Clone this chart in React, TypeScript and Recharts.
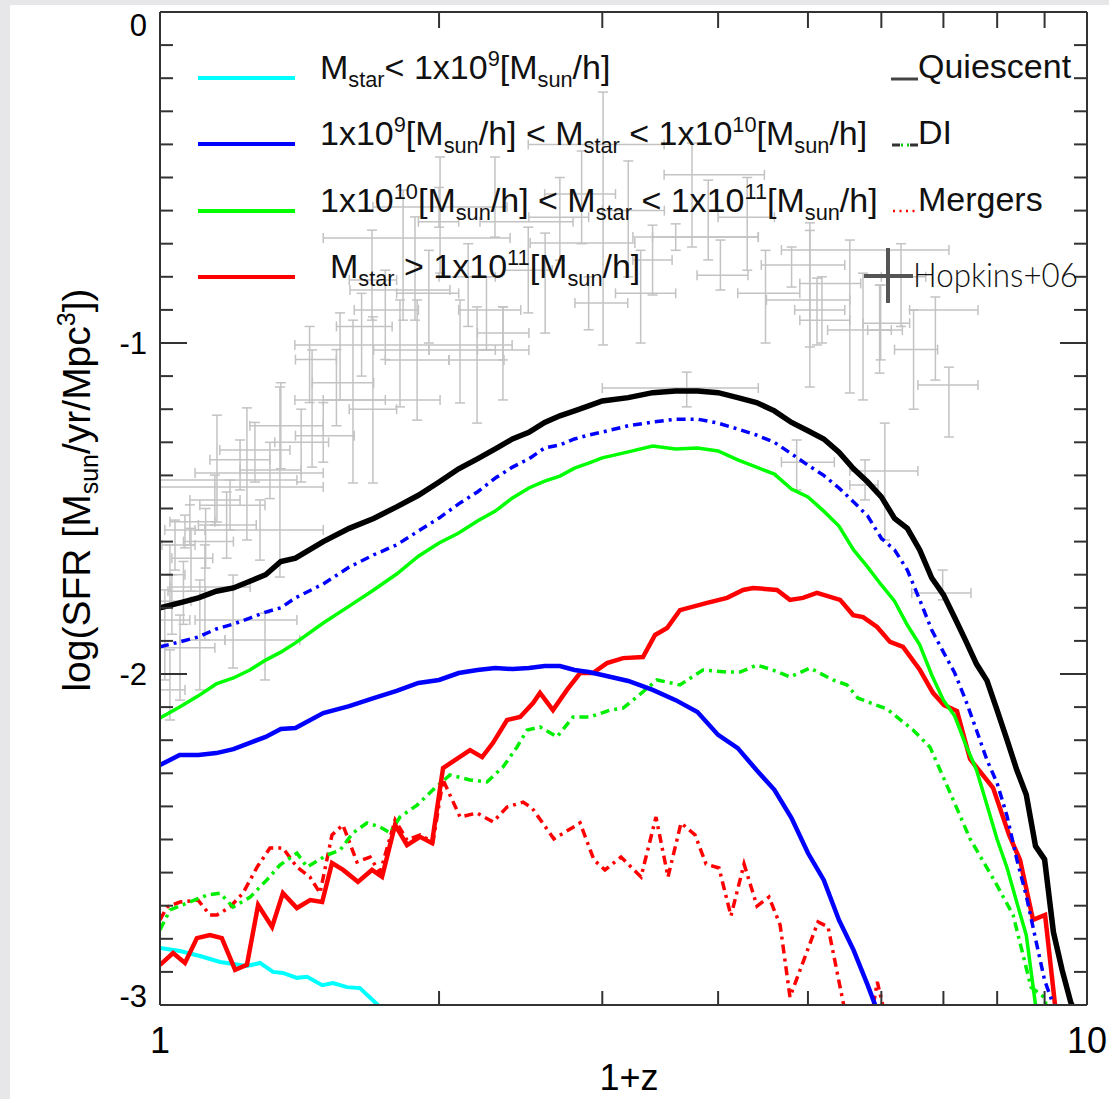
import { ComposedChart, Line, Scatter, ErrorBar, XAxis, YAxis, Legend } from "recharts";

// ---- data (x = 1+z, y = log SFR density) ----

const xGrid = [
  1.0, 1.05, 1.1, 1.15, 1.2, 1.25, 1.3, 1.35, 1.4, 1.5, 1.6, 1.7, 1.8, 1.9, 2.0, 2.1, 2.2, 2.3, 2.4, 2.5,
  2.6, 2.7, 2.8, 2.9, 3.0, 3.2, 3.4, 3.6, 3.8, 4.0, 4.2, 4.4, 4.6, 4.8, 5.0, 5.2, 5.4, 5.6, 5.8, 6.0,
  6.2, 6.4, 6.6, 6.8, 7.0, 7.2, 7.4, 7.6, 7.8, 8.0, 8.2, 8.4, 8.6, 8.8, 9.0, 9.2, 9.4, 9.6, 9.8,
];

// black solid
const totalSfr = [
  -1.8, -1.785, -1.77, -1.75, -1.74, -1.72, -1.7, -1.66, -1.65, -1.6, -1.56, -1.53, -1.495, -1.46, -1.42,
  -1.38, -1.35, -1.32, -1.29, -1.27, -1.24, -1.22, -1.205, -1.19, -1.175, -1.165, -1.15, -1.145, -1.145,
  -1.15, -1.165, -1.18, -1.205, -1.24, -1.265, -1.29, -1.33, -1.38, -1.42, -1.465, -1.53, -1.56, -1.625,
  -1.71, -1.76, -1.83, -1.9, -1.97, -2.02, -2.11, -2.2, -2.29, -2.365, -2.52, -2.56, -2.78, -2.894, -2.99,
  -3.05,
];

// blue dash-dot
const diTotal = [
  -1.918, -1.903, -1.888, -1.864, -1.849, -1.831, -1.813, -1.8, -1.77, -1.728, -1.677, -1.64, -1.61,
  -1.568, -1.529, -1.486, -1.45, -1.408, -1.375, -1.35, -1.317, -1.308, -1.29, -1.278, -1.269, -1.25,
  -1.239, -1.23, -1.23, -1.242, -1.26, -1.278, -1.3, -1.335, -1.369, -1.4, -1.438, -1.48, -1.523, -1.59,
  -1.625, -1.686, -1.776, -1.867, -1.934, -1.997, -2.08, -2.17, -2.26, -2.33, -2.43, -2.56, -2.67, -2.8,
  -2.925, -3.0, -3.1, -3.2, -3.3,
];

// green solid
const mass10to11 = [
  -2.133, -2.1, -2.066, -2.03, -2.012, -1.988, -1.958, -1.934, -1.906, -1.846, -1.795, -1.746, -1.698,
  -1.644, -1.604, -1.574, -1.538, -1.508, -1.468, -1.438, -1.417, -1.402, -1.378, -1.363, -1.347, -1.329,
  -1.311, -1.32, -1.317, -1.326, -1.353, -1.375, -1.396, -1.441, -1.465, -1.508, -1.553, -1.625, -1.677,
  -1.731, -1.78, -1.852, -1.912, -2.003, -2.079, -2.127, -2.214, -2.29, -2.396, -2.5, -2.586, -2.69,
  -2.789, -3.0, -3.1, -3.2, -3.3, -3.4, -3.5,
];

// blue solid
const mass9to10 = [
  -2.275, -2.245, -2.245, -2.239, -2.227, -2.208, -2.19, -2.166, -2.163, -2.118, -2.097, -2.073, -2.051,
  -2.027, -2.018, -1.997, -1.988, -1.982, -1.985, -1.982, -1.976, -1.976, -1.988, -1.994, -2.003, -2.021,
  -2.048, -2.079, -2.115, -2.184, -2.224, -2.29, -2.35, -2.435, -2.541, -2.622, -2.743, -2.834, -2.94,
  -3.05, -3.15, -3.25, -3.35, -3.45, -3.55, -3.6, -3.7, -3.8, -3.9, -4, -4, -4, -4, -4, -4, -4, -4, -4, -4,
];

// cyan solid
const lowMassX = [1.0, 1.051, 1.104, 1.161, 1.241, 1.282, 1.324, 1.357, 1.405, 1.441, 1.496, 1.537, 1.591, 1.643, 1.718, 1.8];
const lowMassY = [-2.828, -2.837, -2.852, -2.87, -2.882, -2.873, -2.9, -2.903, -2.918, -2.915, -2.94, -2.934, -2.946, -2.949, -3.0, -3.1];

// red solid
const massiveX = [
  1.0, 1.033, 1.064, 1.096, 1.132, 1.166, 1.205, 1.241, 1.276, 1.321, 1.357, 1.405, 1.452, 1.496, 1.533,
  1.576, 1.635, 1.693, 1.736, 1.793, 1.847, 1.908, 1.965, 2.02, 2.16, 2.226, 2.287, 2.368, 2.446, 2.526,
  2.57, 2.654, 2.748, 2.839, 2.931, 3.035, 3.159, 3.319, 3.42, 3.524, 3.638, 3.892, 4.09, 4.256, 4.363,
  4.63, 4.781, 4.938, 5.113, 5.416, 5.594, 5.734, 5.937, 6.131, 6.332, 6.604, 6.821, 7.01, 7.241, 7.479,
  7.919, 8.24, 8.468, 8.746, 9.011, 9.237, 9.5,
];
const massiveY = [
  -2.879, -2.843, -2.873, -2.798, -2.789, -2.798, -2.894, -2.879, -2.698, -2.764, -2.662, -2.707, -2.683,
  -2.689, -2.571, -2.592, -2.628, -2.592, -2.613, -2.456, -2.517, -2.492, -2.511, -2.284, -2.23, -2.251,
  -2.208, -2.139, -2.13, -2.088, -2.057, -2.109, -2.048, -1.997, -1.997, -1.967, -1.952, -1.949, -1.882,
  -1.861, -1.807, -1.785, -1.77, -1.746, -1.74, -1.746, -1.776, -1.77, -1.755, -1.776, -1.822, -1.828,
  -1.858, -1.903, -1.918, -1.988, -2.057, -2.094, -2.112, -2.257, -2.344, -2.486, -2.562, -2.743, -2.728,
  -3.0, -3.3,
];

// red dash-dot
const massiveMergX = [
  1.0, 1.0175, 1.051, 1.099, 1.132, 1.152, 1.19, 1.229, 1.273, 1.314, 1.357, 1.405, 1.451, 1.488, 1.533,
  1.575, 1.631, 1.685, 1.727, 1.793, 1.847, 1.908, 1.97, 2.02, 2.107, 2.198, 2.287, 2.368, 2.464, 2.52,
  2.66, 2.839, 2.939, 3.02, 3.143, 3.303, 3.428, 3.532, 3.648, 3.777, 3.882, 4.009, 4.13, 4.266, 4.406,
  4.539, 4.666, 4.782, 5.127, 5.256, 5.537, 5.76, 5.94, 6.08,
];
const massiveMergY = [
  -2.743, -2.704, -2.689, -2.683, -2.728, -2.728, -2.704, -2.662, -2.583, -2.526, -2.526, -2.583, -2.613,
  -2.662, -2.486, -2.456, -2.568, -2.553, -2.601, -2.441, -2.502, -2.486, -2.508, -2.32, -2.432, -2.42,
  -2.447, -2.402, -2.387, -2.405, -2.498, -2.45, -2.562, -2.592, -2.553, -2.613, -2.432, -2.613, -2.45,
  -2.486, -2.574, -2.586, -2.731, -2.574, -2.701, -2.674, -2.758, -2.976, -2.749, -2.764, -3.08, -3.15,
  -2.93, -3.05,
];

// green dash-dot
const highDiX = [
  1.0, 1.025, 1.069, 1.124, 1.161, 1.199, 1.251, 1.304, 1.347, 1.405, 1.441, 1.514, 1.564, 1.615, 1.672,
  1.727, 1.771, 1.815, 1.894, 1.97, 2.055, 2.16, 2.253, 2.344, 2.427, 2.489, 2.57, 2.681, 2.79, 2.91,
  3.058, 3.159, 3.27, 3.437, 3.638, 3.852, 4.09, 4.224, 4.406, 4.584, 4.782, 5.026, 5.321, 5.509, 5.662,
  6.085, 6.491, 6.771, 7.08, 7.479, 7.959, 8.323, 8.702, 9.011, 9.1,
];
const highDiY = [
  -2.773, -2.713, -2.692, -2.668, -2.662, -2.704, -2.674, -2.622, -2.577, -2.541, -2.583, -2.547, -2.532,
  -2.48, -2.45, -2.462, -2.48, -2.432, -2.396, -2.35, -2.305, -2.32, -2.326, -2.281, -2.221, -2.169, -2.16,
  -2.19, -2.13, -2.13, -2.109, -2.103, -2.069, -2.018, -2.033, -1.988, -1.994, -1.994, -1.973, -1.988,
  -2.009, -1.982, -2.018, -2.033, -2.073, -2.106, -2.169, -2.221, -2.344, -2.498, -2.628, -2.728, -2.946,
  -2.979, -3.08,
];

// Hopkins+06 compilation: [x, y, xLow, xHigh, yLow, yHigh]
const hopkins06 = [
  [1.025, -1.7, 1.0, 1.064, -1.79, -1.61],
  [1.038, -1.61, 1.005, 1.091, -1.686, -1.535],
  [1.064, -1.565, 1.012, 1.118, -1.619, -1.52],
  [1.077, -1.54, 1.025, 1.146, -1.61, -1.489],
  [1.012, -1.837, 1.0, 1.077, -2.018, -1.746],
  [1.051, -1.921, 1.0, 1.146, -2.079, -1.822],
  [1.025, -2.048, 1.0, 1.064, -2.139, -1.927],
  [1.104, -1.897, 1.051, 1.175, -2.048, -1.716],
  [1.199, -1.837, 1.091, 1.405, -1.982, -1.701],
  [1.298, -1.897, 1.175, 1.415, -2.018, -1.816],
  [1.118, -1.737, 1.025, 1.251, -1.897, -1.61],
  [1.152, -1.414, 1.0, 1.405, -1.541, -1.218],
  [1.241, -1.435, 1.0, 1.5, -1.595, -1.196],
  [1.347, -1.393, 1.091, 1.5, -1.707, -1.133],
  [1.282, -1.565, 1.091, 1.5, -1.656, -1.474],
  [1.19, -1.49, 1.104, 1.298, -1.565, -1.414],
  [1.22, -1.353, 1.132, 1.314, -1.444, -1.293],
  [1.146, -1.474, 1.077, 1.22, -1.55, -1.399],
  [1.266, -1.323, 1.16, 1.381, -1.42, -1.24],
  [1.314, -1.384, 1.22, 1.42, -1.47, -1.3],
  [1.459, -1.172, 1.398, 2.005, -1.375, -1.021],
  [1.564, -1.006, 1.398, 2.398, -1.172, -0.909],
  [1.615, -1.172, 1.5, 1.75, -1.423, -0.931],
  [1.697, -1.2, 1.6, 1.8, -1.423, -0.921],
  [1.815, -1.021, 1.7, 1.95, -1.193, -0.87],
  [1.894, -1.051, 1.75, 2.05, -1.233, -0.87],
  [2.107, -1.021, 1.95, 2.3, -1.181, -0.87],
  [2.198, -1.051, 2.05, 2.35, -1.242, -0.891],
  [2.344, -1.021, 2.2, 2.5, -1.172, -0.891],
  [1.884, -0.683, 1.5, 2.386, -0.931, -0.619],
  [2.005, -0.634, 1.9, 2.1, -0.789, -0.438],
  [2.298, -0.634, 2.214, 2.79, -0.68, -0.438],
  [2.0, -0.589, 1.697, 2.368, -0.65, -0.53],
  [1.829, -0.84, 1.603, 2.055, -0.931, -0.538],
  [1.693, -0.81, 1.6, 1.8, -0.931, -0.659],
  [2.496, -0.78, 2.35, 2.65, -0.909, -0.65],
  [2.603, -0.698, 2.508, 3.253, -0.97, -0.668],
  [2.9, -0.879, 2.803, 3.196, -0.96, -0.8],
  [2.344, -0.97, 2.2, 2.5, -1.051, -0.891],
  [3.006, -0.4, 2.496, 3.498, -1.006, -0.242],
  [3.749, -0.492, 3.498, 4.487, -0.71, -0.396],
  [3.903, -0.68, 3.399, 4.42, -0.749, -0.508],
  [4.023, -0.795, 3.796, 4.308, -0.84, -0.689],
  [4.801, -0.764, 4.453, 5.479, -0.831, -0.71],
  [5.024, -0.87, 4.51, 5.548, -1.012, -0.637],
  [5.177, -0.931, 4.9, 5.548, -1.0, -0.8],
  [5.99, -0.94, 5.733, 6.437, -1.051, -0.825],
  [3.399, -0.749, 3.237, 3.568, -0.855, -0.644],
  [3.6, -0.68, 3.237, 4.42, -0.72, -0.64],
  [5.114, -0.9, 4.838, 5.479, -1.006, -0.804],
  [5.733, -0.961, 5.25, 6.321, -1.172, -0.789],
  [5.974, -0.961, 5.8, 6.15, -1.091, -0.825],
  [6.862, -0.9, 6.437, 7.628, -1.112, -0.861],
  [7.097, -1.127, 6.57, 7.628, -1.284, -1.073],
  [6.052, -1.387, 5.548, 6.57, -1.595, -1.242],
  [5.762, -1.429, 5.548, 5.95, -1.474, -1.353],
  [4.862, -1.36, 4.681, 5.339, -1.444, -1.293],
  [6.987, -1.755, 6.47, 7.497, -1.776, -1.686],
  [5.548, -0.82, 4.9, 5.7, -1.151, -0.689],
  [5.024, -0.719, 4.681, 7.097, -1.133, -0.66],
  [3.7, -1.136, 3.0, 4.42, -1.193, -1.088],
  [1.35, -1.25, 1.25, 1.5, -1.38, -1.12],
  [1.42, -1.3, 1.33, 1.52, -1.42, -1.2],
  [1.5, -1.28, 1.4, 1.62, -1.36, -1.18],
  [1.55, -1.12, 1.46, 1.7, -1.25, -1.02],
  [1.45, -1.05, 1.4, 1.55, -1.18, -0.95],
  [1.65, -0.95, 1.55, 1.78, -1.1, -0.85],
  [1.75, -0.9, 1.62, 1.9, -1.05, -0.78],
  [1.95, -0.85, 1.8, 2.1, -1.0, -0.72],
  [2.15, -0.8, 2.0, 2.3, -0.95, -0.7],
  [2.25, -0.9, 2.1, 2.45, -1.02, -0.8],
  [2.7, -0.62, 2.5, 2.9, -0.75, -0.5],
  [2.85, -0.55, 2.6, 3.1, -0.7, -0.42],
  [3.2, -0.6, 3.0, 3.5, -0.8, -0.45],
  [3.3, -0.85, 3.1, 3.6, -1.0, -0.72],
  [4.3, -0.62, 4.0, 4.6, -0.78, -0.5],
  [4.5, -0.85, 4.2, 4.9, -1.0, -0.72],
  [6.3, -0.8, 6.0, 6.7, -0.95, -0.7],
  [6.5, -1.02, 6.2, 6.9, -1.2, -0.9],
  [1.08, -1.65, 1.03, 1.14, -1.75, -1.56],
  [1.12, -1.6, 1.06, 1.2, -1.68, -1.5],
  [1.18, -1.55, 1.1, 1.27, -1.65, -1.45],
  [1.03, -1.78, 1.0, 1.08, -1.88, -1.7],
  [1.06, -1.75, 1.02, 1.12, -1.85, -1.66],
];

const yTicks = [
  0, -0.1, -0.2, -0.3, -0.4, -0.5, -0.6, -0.7, -0.8, -0.9, -1, -1.1, -1.2, -1.3, -1.4, -1.5, -1.6, -1.7,
  -1.8, -1.9, -2, -2.1, -2.2, -2.3, -2.4, -2.5, -2.6, -2.7, -2.8, -2.9, -3,
];
const xTicks = [1, 2, 3, 4, 5, 6, 7, 8, 9, 10];
const xLabelled = [1, 10];

type Part = [string, ("sub" | "sup")?];
const massLegend: { color: string; x: number; y: number; parts: Part[] }[] = [
  { color: "#00ffff", x: 320, y: 78, parts: [["M"], ["star", "sub"], ["< 1x10"], ["9", "sup"], ["[M"], ["sun", "sub"], ["/h]"]] },
  {
    color: "#0000ff", x: 320, y: 144,
    parts: [["1x10"], ["9", "sup"], ["[M"], ["sun", "sub"], ["/h] < M"], ["star", "sub"], [" < 1x10"], ["10", "sup"], ["[M"], ["sun", "sub"], ["/h]"]],
  },
  {
    color: "#00ff00", x: 320, y: 211,
    parts: [["1x10"], ["10", "sup"], ["[M"], ["sun", "sub"], ["/h] < M"], ["star", "sub"], [" < 1x10"], ["11", "sup"], ["[M"], ["sun", "sub"], ["/h]"]],
  },
  { color: "#ff0000", x: 330, y: 277, parts: [["M"], ["star", "sub"], [" > 1x10"], ["11", "sup"], ["[M"], ["sun", "sub"], ["/h]"]] },
];

const FONT = "'Liberation Sans', Arial, Helvetica, sans-serif";
const AXIS = "#333";

const pts = (xs: number[], ys: number[]) => xs.map((x, i) => ({ x, y: ys[i] }));

function RichText({ x, y, parts, size }: { x: number; y: number; parts: Part[]; size: number }) {
  let cur = 0;
  return (
    <text x={x} y={y} fontSize={size} fontFamily={FONT} fill="#111">
      {parts.map(([t, kind], i) => {
        const target = kind === "sub" ? 8 : kind === "sup" ? -13 : 0;
        const dy = target - cur;
        cur = target;
        return (
          <tspan key={i} dy={dy} fontSize={kind ? size * 0.64 : size}>
            {t}
          </tspan>
        );
      })}
    </text>
  );
}

function LegendBox() {
  return (
    <svg width={1109} height={320} style={{ display: "block" }}>
      {massLegend.map((r) => (
        <g key={r.color}>
          <line x1={198} x2={295} y1={r.y} y2={r.y} stroke={r.color} strokeWidth={4} />
          <RichText x={r.x} y={r.y + 1} parts={r.parts} size={34} />
        </g>
      ))}
      <line x1={891} x2={918} y1={79} y2={79} stroke="#444" strokeWidth={3} />
      <text x={918} y={78} fontSize={34} fontFamily={FONT} fill="#111">Quiescent</text>
      <line x1={892} x2={918} y1={145} y2={145} stroke="#333" strokeWidth={3} strokeDasharray="8 10" />
      <line x1={901} x2={909} y1={145} y2={145} stroke="#00cc00" strokeWidth={3} strokeDasharray="2 4" />
      <text x={918} y={144} fontSize={34} fontFamily={FONT} fill="#111">DI</text>
      <line x1={893} x2={916} y1={211} y2={211} stroke="#ff0000" strokeWidth={2.5} strokeDasharray="2 4.5" />
      <text x={918} y={211} fontSize={34} fontFamily={FONT} fill="#111">Mergers</text>
      <line x1={864} x2={913} y1={276} y2={276} stroke="#555" strokeWidth={4} />
      <line x1={888} x2={888} y1={248} y2={303} stroke="#555" strokeWidth={4} />
      <text x={913} y={287} fontSize={33} fontFamily="Lato, 'Open Sans', sans-serif" fontWeight={300} fill="#111" textLength={165} lengthAdjust="spacingAndGlyphs">
        Hopkins+06
      </text>
    </svg>
  );
}

function LeftTick({ x, y, payload }: any) {
  const v = payload.value;
  const major = Math.abs(v - Math.round(v)) < 1e-6;
  const dy = v === 0 ? 24 : v === -3 ? 2 : 11;
  return (
    <g>
      <line x1={x} x2={x + (major ? 27 : 13)} y1={y} y2={y} stroke={AXIS} strokeWidth={2} />
      {major && (
        <text x={x - 13} y={y + dy} textAnchor="end" fontSize={31} fontFamily={FONT} fill="#000">
          {String(Math.round(v))}
        </text>
      )}
    </g>
  );
}

function RightTick({ x, y, payload }: any) {
  const v = payload.value;
  const major = Math.abs(v - Math.round(v)) < 1e-6;
  return <line x1={x} x2={x - (major ? 27 : 13)} y1={y} y2={y} stroke={AXIS} strokeWidth={2} />;
}

function BottomTick({ x, y, payload }: any) {
  const v = payload.value;
  const edge = xLabelled.includes(v);
  return (
    <g>
      {!edge && <line x1={x} x2={x} y1={y} y2={y - 14} stroke={AXIS} strokeWidth={2} />}
      {edge && (
        <text x={x} y={y + 48} textAnchor="middle" fontSize={36} fontFamily={FONT} fill="#000">
          {v}
        </text>
      )}
    </g>
  );
}

function TopTick({ x, y, payload }: any) {
  const v = payload.value;
  if (xLabelled.includes(v)) return <g />;
  return <line x1={x} x2={x} y1={y} y2={y + 16} stroke={AXIS} strokeWidth={2} />;
}

const yTitle = () => (
  <text transform="translate(90,490) rotate(-90)" textAnchor="middle" fontSize={39} fontFamily={FONT} fill="#000">
    <tspan>log(SFR [M</tspan>
    <tspan dy={8} fontSize={25}>sun</tspan>
    <tspan dy={-8}>/yr/Mpc</tspan>
    <tspan dy={-15} fontSize={25}>3</tspan>
    <tspan dy={15}>])</tspan>
  </text>
);

const xTitle = () => (
  <text x={629} y={1090} textAnchor="middle" fontSize={36} fontFamily={FONT} fill="#000">
    1+z
  </text>
);

export default function App() {
  const hopData = hopkins06.map(([x, y, xl, xh, yl, yh]) => ({
    x,
    y,
    ex: [x - xl, xh - x],
    ey: [y - yl, yh - y],
  }));

  return (
    <div style={{ position: "absolute", left: 0, top: 0, width: 1109, height: 1099, background: "#e7e7e9" }}>
      <div style={{ position: "absolute", left: 10, top: 5, width: 1099, height: 1094, background: "#fff" }} />
      <div style={{ position: "absolute", left: 0, top: 0 }}>
        <ComposedChart width={1109} height={1099} margin={{ top: 11, right: 21, bottom: 34, left: 100 }}>
          <XAxis
            dataKey="x"
            type="number"
            scale="log"
            domain={[1, 10]}
            allowDataOverflow
            ticks={xTicks}
            interval={0}
            tickSize={0}
            tickMargin={0}
            height={60}
            axisLine={{ stroke: AXIS, strokeWidth: 2 }}
            tick={(p: any) => <BottomTick {...p} />}
            label={{ content: xTitle }}
          />
          <XAxis
            xAxisId="top"
            orientation="top"
            dataKey="x"
            type="number"
            scale="log"
            domain={[1, 10]}
            allowDataOverflow
            ticks={xTicks}
            interval={0}
            tickSize={0}
            tickMargin={0}
            height={1}
            axisLine={{ stroke: AXIS, strokeWidth: 2 }}
            tick={(p: any) => <TopTick {...p} />}
          />
          <YAxis
            type="number"
            domain={[-3, 0]}
            allowDataOverflow
            ticks={yTicks}
            interval={0}
            tickSize={0}
            tickMargin={0}
            width={60}
            axisLine={{ stroke: AXIS, strokeWidth: 2 }}
            tick={(p: any) => <LeftTick {...p} />}
            label={{ content: yTitle }}
          />
          <YAxis
            yAxisId="right"
            orientation="right"
            type="number"
            domain={[-3, 0]}
            allowDataOverflow
            ticks={yTicks}
            interval={0}
            tickSize={0}
            tickMargin={0}
            width={1}
            axisLine={{ stroke: AXIS, strokeWidth: 2 }}
            tick={(p: any) => <RightTick {...p} />}
          />
          <Legend
            layout="horizontal"
            verticalAlign="middle"
            align="center"
            content={() => <LegendBox />}
            wrapperStyle={{ position: "absolute", left: 0, top: 0, width: 1109, height: 320, pointerEvents: "none" }}
          />

          <Scatter data={hopData} dataKey="y" shape={() => <g />} isAnimationActive={false} legendType="none">
            <ErrorBar dataKey="ex" direction="x" width={5} stroke="#c3c3c3" strokeWidth={1.5} />
            <ErrorBar dataKey="ey" direction="y" width={5} stroke="#c3c3c3" strokeWidth={1.5} />
          </Scatter>

          <Line data={pts(lowMassX, lowMassY)} dataKey="y" stroke="#00ffff" strokeWidth={4} dot={false} isAnimationActive={false} />
          <Line data={pts(massiveMergX, massiveMergY)} dataKey="y" stroke="#ff0000" strokeWidth={3.5} strokeDasharray="9 5 3 5" dot={false} isAnimationActive={false} />
          <Line data={pts(highDiX, highDiY)} dataKey="y" stroke="#00ee00" strokeWidth={3.5} strokeDasharray="9 5 3 5" dot={false} isAnimationActive={false} />
          <Line data={pts(massiveX, massiveY)} dataKey="y" stroke="#ff0000" strokeWidth={4.5} dot={false} isAnimationActive={false} />
          <Line data={pts(xGrid, mass9to10)} dataKey="y" stroke="#0000ff" strokeWidth={4.5} dot={false} isAnimationActive={false} />
          <Line data={pts(xGrid, mass10to11)} dataKey="y" stroke="#00ff00" strokeWidth={3.5} dot={false} isAnimationActive={false} />
          <Line data={pts(xGrid, diTotal)} dataKey="y" stroke="#0000ff" strokeWidth={3.5} strokeDasharray="9 5 3 5" dot={false} isAnimationActive={false} />
          <Line data={pts(xGrid, totalSfr)} dataKey="y" stroke="#000" strokeWidth={5.5} dot={false} isAnimationActive={false} />
        </ComposedChart>
      </div>
    </div>
  );
}
